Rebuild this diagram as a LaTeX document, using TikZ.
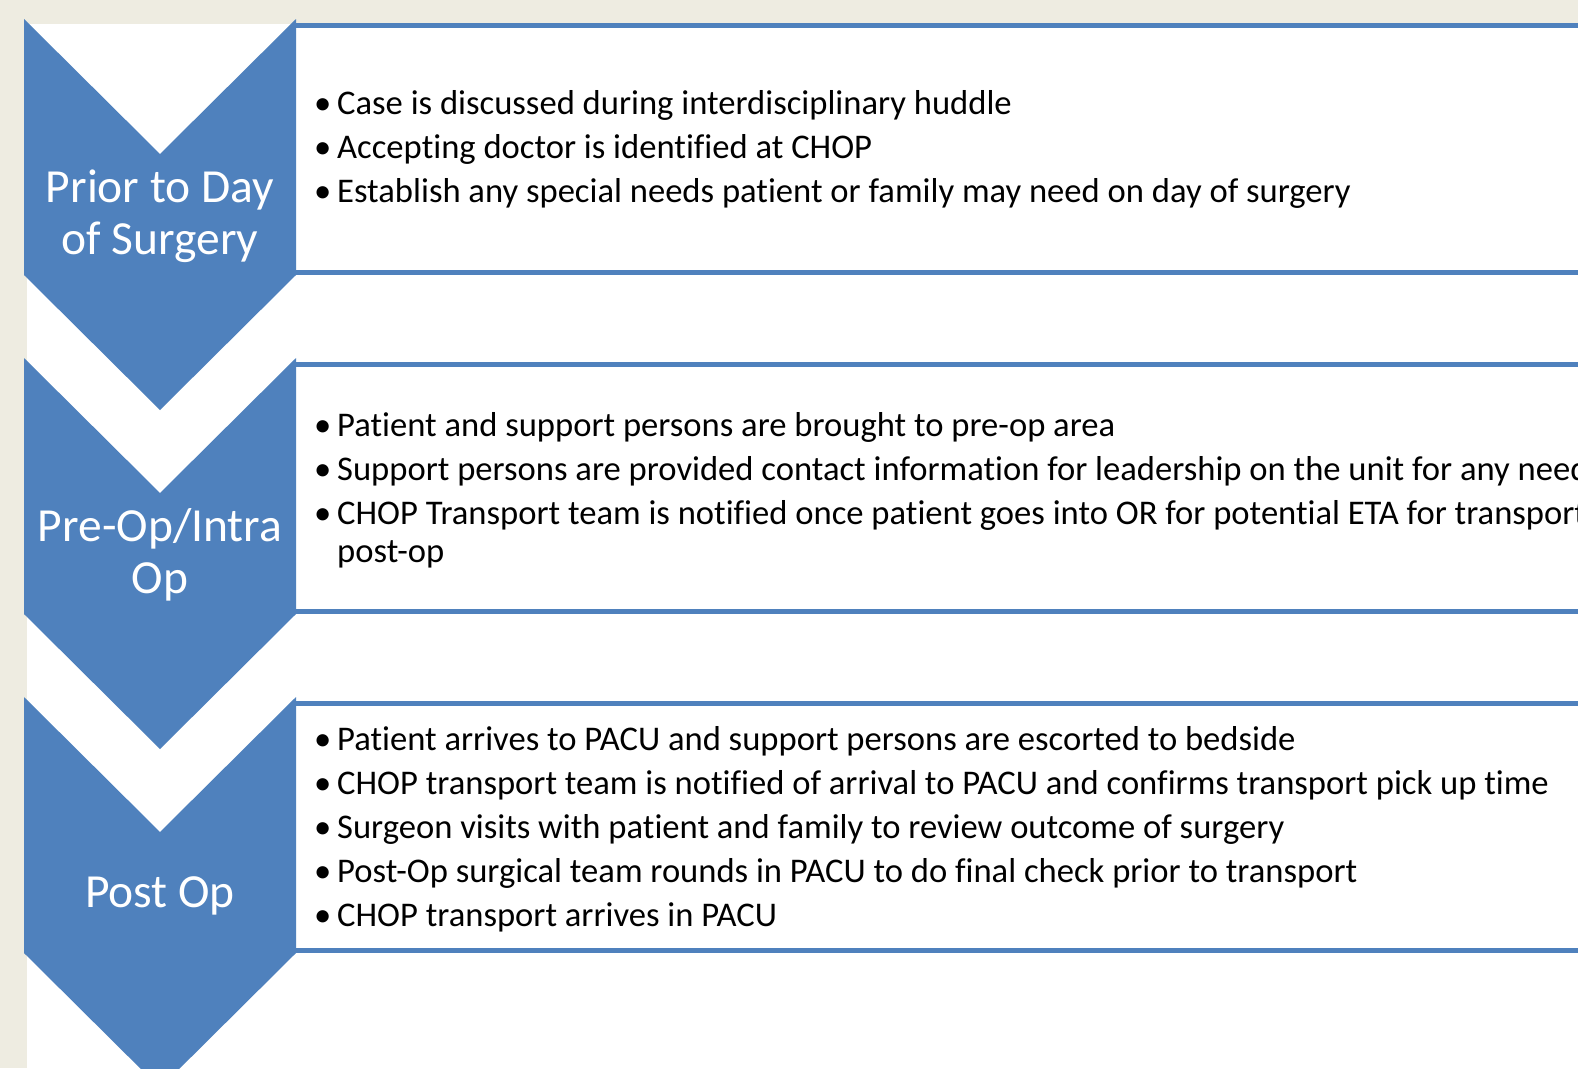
\documentclass[tikz,border=0pt]{standalone}
\usepackage{fontspec}
\setmainfont{Carlito}[Ligatures=CommonOff]
\definecolor{chevblue}{HTML}{4F81BD}
\definecolor{slidebg}{HTML}{EEECE1}
\tikzset{
  chevron/.style={fill=chevblue},
  rule/.style={draw=chevblue,line width=5pt},
  phase/.style={text=white,align=center,font=\fontsize{47.5}{52}\selectfont},
  steps/.style={anchor=west,align=left,inner sep=0pt,font=\fontsize{34.6}{38}\selectfont},
}
\newcommand{\bul}{\makebox[23pt][l]{\textbullet}}

\begin{document}
\begin{tikzpicture}[x=1pt,y=-1pt]
  \useasboundingbox (0,0) rectangle (1578,1068);
  \clip (0,0) rectangle (1578,1068);
  \fill[slidebg] (0,0) rectangle (1578,1068);
  \fill[white] (27,24) rectangle (1578,1068);
  % box rules and chevrons
  \foreach \t in {19,358,697} {
    \draw[rule] (296,\t+6) -- (1578,\t+6) (296,\t+253) -- (1578,\t+253);
    \fill[chevron] (24,\t) -- (160,\t+135) -- (296,\t) -- (296,\t+256)
      -- (160,\t+391) -- (24,\t+256) -- cycle;
  }
  % phase labels
  \node[phase] (prior) at (160,216) {Prior to Day\\of Surgery};
  \node[phase] (preop) at (160,555) {Pre-Op/Intra\\Op};
  \node[phase] (postop) at (160,896) {Post Op};
  % steps
  \node[steps] (priorsteps) at (314,149) {\bul Case is discussed during interdisciplinary huddle\\[6pt]
    \bul Accepting doctor is identified at CHOP\\[6pt]
    \bul Establish any special needs patient or family may need on day of surgery};
  \node[steps] (preopsteps) at (314,490) {\bul Patient and support persons are brought to pre-op area\\[6pt]
    \bul Support persons are provided contact information for leadership on the unit for any needs\\[6pt]
    \bul CHOP Transport team is notified once patient goes into OR for potential ETA for transport\\
    \hspace*{23pt}post-op};
  \node[steps] (postopsteps) at (314,829) {\bul Patient arrives to PACU and support persons are escorted to bedside\\[6pt]
    \bul CHOP transport team is notified of arrival to PACU and confirms transport pick up time\\[6pt]
    \bul Surgeon visits with patient and family to review outcome of surgery\\[6pt]
    \bul Post-Op surgical team rounds in PACU to do final check prior to transport\\[6pt]
    \bul CHOP transport arrives in PACU};
\end{tikzpicture}
\end{document}
